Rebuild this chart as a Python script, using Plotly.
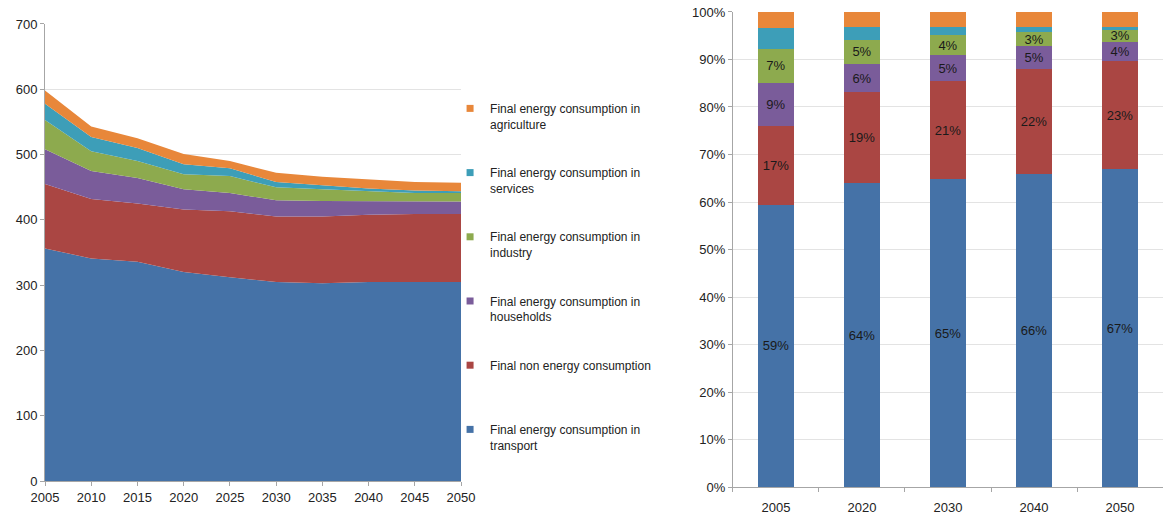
import plotly.graph_objects as go

# left chart: final energy consumption by sector, stacked area
years = [2005, 2010, 2015, 2020, 2025, 2030, 2035, 2040, 2045, 2050]
transport = [356, 341, 336, 320, 312, 305, 303, 305, 305, 305]
non_energy = [99, 91, 89, 96, 101, 100, 102, 103, 104, 104]
households = [53, 43, 39, 31, 28, 25, 24, 21, 19, 19]
industry = [45, 30, 26, 23, 26, 20, 18, 15, 13, 13]
services = [25, 22, 20, 15, 12, 8, 6, 4, 4, 3]
agriculture = [20, 16, 15, 16, 11, 14, 13, 14, 13, 13]

# right chart: shares (%) for selected years
share_years = ['2005', '2020', '2030', '2040', '2050']
share_transport = [59.4, 64.0, 64.8, 66.0, 66.9]
share_non_energy = [16.6, 19.1, 20.7, 22.1, 22.8]
share_households = [9.0, 5.9, 5.4, 4.7, 4.0]
share_industry = [7.3, 5.2, 4.3, 2.9, 2.6]
share_services = [4.4, 2.6, 1.7, 1.1, 0.6]
share_agriculture = [3.3, 3.2, 3.1, 3.2, 3.1]

names = [
    'Final energy consumption in<br>transport',
    'Final non energy consumption<br> ',
    'Final energy consumption in<br>households',
    'Final energy consumption in<br>industry',
    'Final energy consumption in<br>services',
    'Final energy consumption in<br>agriculture',
]
colors = ['#4572A7', '#AA4643', '#7A5C9A', '#8DAA4E', '#3D9EB8', '#E8873A']
area_series = [transport, non_energy, households, industry, services, agriculture]
bar_series = [share_transport, share_non_energy, share_households,
              share_industry, share_services, share_agriculture]
labelled = [True, True, True, True, False, False]

FONT = 'Liberation Sans, Arial, sans-serif'

fig = go.Figure()

for i, (name, color, vals) in enumerate(zip(names, colors, area_series)):
    fig.add_trace(go.Scatter(
        x=years, y=vals, name=name, stackgroup='one', mode='lines',
        line=dict(width=0, color=color), fillcolor=color,
        showlegend=False, xaxis='x', yaxis='y',
    ))

# small square legend keys, agriculture on top like the original
for i, (name, color) in enumerate(zip(names, colors)):
    fig.add_trace(go.Scatter(
        x=[None], y=[None], name=name, mode='markers',
        marker=dict(symbol='square', size=7, color=color),
        legendgroup=f'g{i}', legendrank=100 - i, xaxis='x', yaxis='y',
    ))

for i, (color, vals) in enumerate(zip(colors, bar_series)):
    fig.add_trace(go.Bar(
        x=share_years, y=vals, marker=dict(color=color, line=dict(width=0)),
        showlegend=False, xaxis='x2', yaxis='y2',
        texttemplate='%{y:.0f}%' if labelled[i] else None,
        textposition='inside' if labelled[i] else 'none',
        insidetextanchor='middle',
        textfont=dict(color='#1a1a1a', size=13, family=FONT),
    ))

axis_common = dict(
    showline=True, linecolor='#a6a6a6', linewidth=1,
    ticks='outside', tickcolor='#a6a6a6', ticklen=4,
    tickfont=dict(size=13, color='#222', family=FONT),
    zeroline=False, automargin=False,
)

fig.update_layout(
    width=1169, height=517, autosize=False,
    margin=dict(l=0, r=0, t=0, b=0),
    plot_bgcolor='white', paper_bgcolor='white',
    barmode='stack', bargap=0.58,
    hovermode=False,
    uniformtext=dict(minsize=13, mode='show'),
    font=dict(family=FONT, color='#222'),
    xaxis=dict(domain=[0.0385, 0.3944], range=[2005, 2050], dtick=5,
               showgrid=False, **axis_common),
    yaxis=dict(domain=[0.0696, 0.9536], range=[0, 700], dtick=100,
               showgrid=True, gridcolor='#e3e3e3', **axis_common),
    xaxis2=dict(domain=[0.627, 0.9949], type='category', tickson='boundaries',
                showgrid=False, anchor='y2', ticklabelstandoff=8, **axis_common),
    yaxis2=dict(domain=[0.058, 0.9768], range=[0, 100], dtick=10, ticksuffix='%',
                showgrid=True, gridcolor='#e3e3e3', anchor='x2', **axis_common),
    legend=dict(x=0.385, y=0.818, xanchor='left', yanchor='top',
                traceorder='grouped', tracegroupgap=30, valign='top',
                font=dict(size=12, color='#222', family=FONT),
                itemwidth=30, bgcolor='rgba(0,0,0,0)'),
    showlegend=True,
)

# page body has an 8px default margin; drop it so the figure fills the window
fig.write_html('out.html', config={'displayModeBar': False, 'staticPlot': True},
               post_script="document.body.style.margin='0';")
